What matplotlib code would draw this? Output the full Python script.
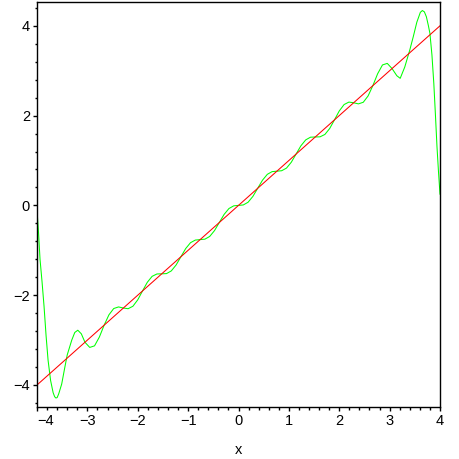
import matplotlib
matplotlib.use("Agg")
import matplotlib.pyplot as plt
from matplotlib.ticker import MultipleLocator

# red line y = x, end points
line_x = [-4.0, 4.0]
line_y = [-4.0, 4.0]

# green curve, points
curve_x = [-4.0, -3.97, -3.94, -3.90, -3.86, -3.82, -3.78, -3.73, -3.68, -3.65, -3.625,
           -3.60, -3.57, -3.51, -3.45, -3.40, -3.31, -3.25, -3.19, -3.12, -3.048, -2.953,
           -2.858, -2.762, -2.667, -2.572, -2.477, -2.381, -2.286, -2.191, -2.096, -2.000,
           -1.905, -1.810, -1.715, -1.619, -1.524, -1.429, -1.334, -1.238, -1.143, -1.048,
           -0.953, -0.857, -0.762, -0.667, -0.572, -0.476, -0.381, -0.286, -0.190, -0.095,
           0.0, 0.095, 0.190, 0.286, 0.381, 0.476, 0.572, 0.667, 0.762, 0.857,
           0.953, 1.048, 1.143, 1.238, 1.334, 1.429, 1.524, 1.619, 1.715, 1.810,
           1.905, 2.000, 2.096, 2.191, 2.286, 2.381, 2.477, 2.572, 2.667, 2.762,
           2.858, 2.953, 3.048, 3.143, 3.21, 3.30, 3.40, 3.47, 3.54, 3.61, 3.65,
           3.69, 3.73, 3.77, 3.80, 3.84, 3.877, 3.91, 3.94, 3.97, 4.0]
curve_y = [-0.10, -0.60, -1.20, -1.70, -2.25, -2.90, -3.45, -3.90, -4.17, -4.26, -4.29,
           -4.28, -4.20, -3.98, -3.62, -3.33, -3.00, -2.83, -2.78, -2.86, -3.048, -3.163,
           -3.128, -2.932, -2.667, -2.437, -2.297, -2.261, -2.286, -2.301, -2.246, -2.103,
           -1.905, -1.712, -1.580, -1.527, -1.524, -1.519, -1.459, -1.326, -1.143, -0.961,
           -0.831, -0.772, -0.762, -0.752, -0.692, -0.561, -0.381, -0.201, -0.070, -0.010,
           0.0, 0.010, 0.070, 0.201, 0.381, 0.561, 0.692, 0.752, 0.762, 0.772,
           0.831, 0.961, 1.143, 1.326, 1.459, 1.519, 1.524, 1.527, 1.580, 1.712,
           1.905, 2.103, 2.246, 2.301, 2.286, 2.261, 2.297, 2.437, 2.667, 2.932,
           3.128, 3.163, 3.048, 2.888, 2.83, 3.08, 3.46, 3.76, 4.08, 4.30, 4.34,
           4.31, 4.20, 4.00, 3.83, 3.35, 2.72, 2.00, 1.31, 0.75, 0.25]

x_ticks = [-4, -3, -2, -1, 0, 1, 2, 3, 4]
y_ticks = [-4, -2, 0, 2, 4]

plt.rcParams['font.family'] = ['Liberation Sans', 'DejaVu Sans']

fig = plt.figure(figsize=(4.59, 4.59), dpi=100)
ax = fig.add_axes([37 / 459, 52 / 459, 403 / 459, 405 / 459])

ax.plot(curve_x, curve_y, color='#00ff00', linewidth=0.75)
ax.plot(line_x, line_y, color='#ff0000', linewidth=0.75)

ax.set_xlim(-4, 4)
ax.set_ylim(-4.49, 4.53)

ax.set_xticks(x_ticks)
ax.set_xticklabels(['\u2212' + str(-t) if t < 0 else str(t) for t in x_ticks])
ax.set_yticks(y_ticks)
ax.set_yticklabels(['\u2212' + str(-t) if t < 0 else str(t) for t in y_ticks])
ax.xaxis.set_minor_locator(MultipleLocator(0.2))
ax.yaxis.set_minor_locator(MultipleLocator(0.4))
ax.get_xticklabels()[0].set_ha('left')

ax.tick_params(which='major', direction='out', length=3, width=1, labelsize=10.5, pad=2)
ax.tick_params(which='minor', direction='out', length=1.8, width=1)
for s in ax.spines.values():
    s.set_linewidth(1.0)

ax.set_xlabel('x', fontsize=10.5, labelpad=11)

fig.savefig('out.png', dpi=100)
